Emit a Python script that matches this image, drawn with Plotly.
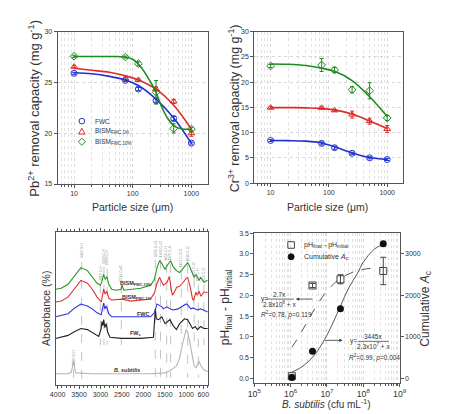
import plotly.graph_objects as go

W, H = 449, 414
FONT = "Liberation Sans, Arial, sans-serif"
BLUE, RED, GREEN = "#2233cc", "#e02a2a", "#1f8a1f"
AX = "#555555"
TXT = "#333333"

# ---------------- Panel (a) Pb removal ----------------
size_um = [10, 75, 125, 250, 500, 1000]
pb_fwc = [25.9, 25.2, 24.35, 23.2, 21.45, 19.03]
pb_fwc_err = [0.1, 0.1, 0.15, 0.2, 0.2, 0.1]
pb_b1 = [26.55, 25.38, 25.25, 24.35, 23.13, 20.0]
pb_b1_err = [0.1, 0.15, 0.1, 0.2, 0.2, 0.3]
pb_b10 = [27.58, 27.5, 26.84, 24.03, 20.48, 20.4]
pb_b10_err = [0.1, 0.1, 0.2, 1.16, 0.45, 0.2]

fit_x = [10, 20, 40, 75, 125, 250, 500, 1000]
pb_fwc_fit = [25.95, 25.85, 25.6, 25.25, 24.7, 23.35, 21.5, 19.0]
pb_b1_fit = [26.4, 26.2, 26.0, 25.65, 25.25, 24.35, 22.75, 20.4]
pb_b10_fit_x = [10, 40, 73.8, 101.9, 140.6, 182, 242, 305, 395, 512, 662, 1000]
pb_b10_fit = [27.55, 27.55, 27.51, 27.26, 26.45, 25.48, 24.19, 22.74, 21.45, 20.71, 20.45, 20.39]

# ---------------- Panel (b) Cr removal ----------------
cr_fwc = [8.44, 7.86, 7.0, 5.9, 5.0, 4.67]
cr_fwc_err = [0.2, 0.3, 0.3, 0.2, 0.2, 0.2]
cr_b1 = [14.94, 14.9, 14.4, 13.57, 12.27, 10.7]
cr_b1_err = [0.2, 0.2, 0.2, 0.7, 0.6, 0.7]
cr_b10 = [23.2, 23.4, 22.4, 18.5, 18.3, 12.9]
cr_b10_err = [0.3, 1.3, 0.5, 0.6, 1.6, 0.5]
cr_fwc_fit = [8.42, 8.4, 8.3, 7.95, 7.2, 5.95, 5.05, 4.65]
cr_b1_fit = [14.95, 14.95, 14.9, 14.8, 14.5, 13.7, 12.3, 10.8]
cr_b10_fit = [23.6, 23.55, 23.3, 22.75, 22.15, 20.3, 17.1, 13.2]

# ---------------- Panel (c) FTIR ----------------
wn_green = [4045, 3916, 3757, 3599, 3456, 3304, 3191, 3078, 3003, 2965, 2926, 2890, 2851, 2806, 2738, 2625,
            2519, 2496, 2455, 2286, 2059, 1832, 1742, 1680, 1621, 1567, 1492, 1447, 1363, 1304, 1227, 1152,
            1085, 1039, 965, 926, 851, 813, 774, 700, 661, 586, 496]
ab_green = [62.6, 63.2, 65.8, 71.6, 76.8, 74.8, 70.3, 66.5, 65.2, 67.7, 72.3, 69.0, 71.0, 65.8, 62.6, 61.9,
            62.6, 65.2, 61.9, 62.6, 63.2, 65.2, 69.0, 76.8, 81.3, 79.4, 75.5, 78.0, 81.3, 77.4, 74.8, 73.5,
            75.5, 77.4, 80.0, 78.0, 72.9, 70.3, 72.3, 68.4, 70.3, 67.1, 68.4]
wn_red = [4045, 3916, 3757, 3599, 3456, 3304, 3191, 3078, 2980, 2926, 2890, 2851, 2806, 2738, 2496, 2286,
          1832, 1742, 1680, 1621, 1531, 1447, 1391, 1357, 1323, 1289, 1221, 1152, 1085, 1001, 965, 904,
          851, 824, 774, 738, 700, 655, 586, 496]
ab_red = [54.2, 54.8, 57.4, 63.2, 68.4, 66.5, 62.6, 57.4, 54.2, 62.6, 59.4, 61.3, 56.8, 55.5, 56.1, 54.8,
          56.1, 60.0, 66.5, 70.3, 65.2, 67.1, 71.0, 63.9, 58.7, 60.0, 63.9, 64.5, 66.5, 69.7, 70.3, 63.9,
          56.1, 55.5, 60.6, 58.7, 61.3, 58.0, 60.6, 60.6]
wn_blue = [4045, 3916, 3757, 3599, 3456, 3304, 3191, 3078, 2983, 2926, 2897, 2863, 2806, 2738, 2286, 1832,
           1742, 1680, 1644, 1567, 1531, 1447, 1379, 1304, 1191, 1085, 1001, 965, 888, 836, 738, 661, 586, 496]
ab_blue = [44.5, 45.2, 46.5, 50.3, 52.9, 51.6, 49.7, 47.1, 45.8, 53.5, 49.7, 51.6, 46.5, 44.5, 44.5, 44.5,
           47.1, 52.9, 52.3, 51.0, 49.7, 51.0, 49.7, 49.0, 49.7, 51.6, 52.9, 52.3, 49.7, 50.3, 49.0, 49.7, 49.0, 47.7]
wn_black = [4045, 3916, 3757, 3599, 3456, 3304, 3191, 3040, 2983, 2965, 2942, 2926, 2897, 2867, 2829, 2777,
            2511, 2059, 1764, 1730, 1719, 1696, 1644, 1567, 1492, 1409, 1379, 1304, 1227, 1152, 1085, 1039,
            965, 904, 851, 790, 738, 661, 586, 496]
ab_black = [30.3, 31.0, 32.3, 34.8, 36.8, 36.1, 34.2, 31.6, 36.8, 41.3, 38.7, 42.6, 37.4, 40.0, 34.2, 31.0,
            30.3, 30.3, 31.0, 44.5, 49.7, 43.2, 42.6, 44.5, 40.0, 41.9, 42.6, 38.7, 36.1, 40.0, 41.9, 43.2,
            42.6, 39.4, 36.8, 38.1, 36.1, 38.1, 36.8, 36.8]
wn_gray = [4045, 3757, 3678, 3644, 3628, 3610, 3576, 3191, 1832, 1492, 1379, 1227, 1152, 1085, 1001, 971,
           926, 869, 813, 768, 722, 700, 655, 586, 496]
ab_gray = [7.1, 7.1, 8.4, 13.5, 15.5, 12.3, 7.7, 7.1, 7.1, 7.7, 9.0, 12.3, 17.4, 26.5, 36.1, 34.8,
           29.7, 20.6, 12.3, 11.0, 14.2, 15.5, 12.3, 9.7, 8.4]

peak_wn = [3628, 3440, 3003, 2919, 2844, 2512, 1720, 1599, 1455, 1363, 1114, 965, 813, 716, 586]
peak_lbl = ["3620 O-H", "3432 O-H", "3010 C-H", "2920 C-H", "2850 C-H", "2514 C≡O", "1735 C=O", "1640 C=O",
            "1456 C-H", "1375 C-H", "1157 C-O-C", "1030 C-O", "875 C-O", "712 C-H", "670 C-O"]
peak_top = [10.3, 80.6, 65.8, 77.4, 76.1, 65.8, 81.9, 81.9, 79.4, 79.4, 74.8, 78.7, 69.7, 65.8, 65.8]
peak_bot = [0.6, 0.6, 25.8, 25.8, 25.8, 25.8, 4.5, 4.5, 4.5, 4.5, 26.5, 4.5, 25.8, 4.5, 25.8]
peak_lbl_y = [11.0, 81.3, 66.5, 78.0, 76.8, 66.5, 82.6, 82.6, 80.0, 80.0, 75.5, 79.4, 70.3, 66.5, 66.5]

# ---------------- Panel (d) B. subtilis ----------------
cfu = [1.08e6, 4.0e6, 2.35e7, 3.55e8]
dph = [0.055, 2.24, 2.39, 2.59]
dph_err = [0.03, 0.05, 0.11, 0.33]
cum_ac = [25, 653, 1677, 3244]
fit_cfu = [1.08e6, 1.5e6, 2e6, 3e6, 4e6, 6e6, 1e7, 1.5e7, 2.4e7, 4e7, 7e7, 1e8, 2e8, 3.55e8]
dph_fit = [0.75, 0.94, 1.13, 1.39, 1.59, 1.84, 2.11, 2.27, 2.42, 2.52, 2.60, 2.63, 2.66, 2.68]
ac_fit = [155, 211, 276, 399, 510, 713, 1044, 1360, 1759, 2187, 2540, 2801, 3114, 3233]


def px(x):
    return x / W


def py(y):
    return 1 - y / H


fig = go.Figure()

# panel a
for ys, es, col, sym in [(pb_fwc, pb_fwc_err, BLUE, "circle-open"), (pb_b1, pb_b1_err, RED, "triangle-up-open"),
                         (pb_b10, pb_b10_err, GREEN, "diamond-open")]:
    fig.add_trace(go.Scatter(x=size_um, y=ys, mode="markers", xaxis="x", yaxis="y",
                             marker=dict(symbol=sym, size=6, color=col, line=dict(width=1, color=col)),
                             error_y=dict(type="data", array=es, color=col, thickness=1, width=2),
                             showlegend=False))
for xs, ys, col in [(fit_x, pb_fwc_fit, BLUE), (fit_x, pb_b1_fit, RED), (pb_b10_fit_x, pb_b10_fit, GREEN)]:
    fig.add_trace(go.Scatter(x=xs, y=ys, mode="lines", xaxis="x", yaxis="y",
                             line=dict(color=col, width=1.6, shape="spline", smoothing=1.0), showlegend=False))

# panel b
for ys, es, col, sym in [(cr_fwc, cr_fwc_err, BLUE, "circle-open"), (cr_b1, cr_b1_err, RED, "triangle-up-open"),
                         (cr_b10, cr_b10_err, GREEN, "diamond-open")]:
    fig.add_trace(go.Scatter(x=size_um, y=ys, mode="markers", xaxis="x2", yaxis="y2",
                             marker=dict(symbol=sym, size=6, color=col, line=dict(width=1, color=col)),
                             error_y=dict(type="data", array=es, color=col, thickness=1, width=2),
                             showlegend=False))
for ys, col in [(cr_fwc_fit, BLUE), (cr_b1_fit, RED), (cr_b10_fit, GREEN)]:
    fig.add_trace(go.Scatter(x=fit_x, y=ys, mode="lines", xaxis="x2", yaxis="y2",
                             line=dict(color=col, width=1.6, shape="spline", smoothing=1.0), showlegend=False))

# panel c
for i, w in enumerate(peak_wn):
    fig.add_trace(go.Scatter(x=[w, w], y=[peak_top[i], peak_bot[i]], mode="lines", xaxis="x3", yaxis="y3",
                             line=dict(color="#9a9a9a", width=0.6, dash="dash"), showlegend=False,
                             hoverinfo="skip"))
for xs, ys, col in [(wn_gray, ab_gray, "#b5b5b5"), (wn_black, ab_black, "#222222"), (wn_blue, ab_blue, "#3030dd"),
                    (wn_red, ab_red, "#e03030"), (wn_green, ab_green, "#1f9a1f")]:
    fig.add_trace(go.Scatter(x=xs, y=ys, mode="lines", xaxis="x3", yaxis="y3",
                             line=dict(color=col, width=1.1), showlegend=False))

# panel d
fig.add_trace(go.Scatter(x=fit_cfu, y=dph_fit, mode="lines", xaxis="x4", yaxis="y4",
                         line=dict(color="#444", width=0.9, dash="dash", shape="spline"), showlegend=False))
fig.add_trace(go.Scatter(x=cfu, y=dph, mode="markers", xaxis="x4", yaxis="y4",
                         marker=dict(symbol="square-open", size=7, color="#444", line=dict(width=1, color="#444")),
                         error_y=dict(type="data", array=dph_err, color="#444", thickness=1, width=3),
                         showlegend=False))
fig.add_trace(go.Scatter(x=fit_cfu, y=ac_fit, mode="lines", xaxis="x4", yaxis="y5",
                         line=dict(color="#444", width=0.9, shape="spline"), showlegend=False))
fig.add_trace(go.Scatter(x=cfu, y=cum_ac, mode="markers", xaxis="x4", yaxis="y5",
                         marker=dict(symbol="circle", size=7, color="#111"), showlegend=False))

common = dict(showline=True, linecolor=AX, linewidth=1, ticks="outside", ticklen=3, tickcolor=AX,
              tickfont=dict(size=7, color=TXT, family=FONT), zeroline=False)
grid = dict(showgrid=True, gridcolor="#d8d8d8", griddash="dot", gridwidth=1)
minor_log = dict(dtick="D1", ticks="outside", ticklen=2, tickcolor=AX, showgrid=True,
                 gridcolor="#e2e2e2", griddash="dot")

fig.update_layout(
    width=W, height=H, margin=dict(l=0, r=0, t=0, b=0),
    paper_bgcolor="white", plot_bgcolor="white", showlegend=False,
    font=dict(family=FONT, color=TXT),
    xaxis=dict(domain=[px(44), px(199)], anchor="y", type="log", range=[0.72, 3.28], dtick=1, mirror=True,
               minor=minor_log, **grid, **common),
    yaxis=dict(domain=[py(175), py(20)], anchor="x", range=[15, 30], dtick=5, mirror=True, **grid, **common),
    xaxis2=dict(domain=[px(247), px(401)], anchor="y2", type="log", range=[0.72, 3.28], dtick=1, mirror=True,
                minor=minor_log, **grid, **common),
    yaxis2=dict(domain=[py(174), py(20)], anchor="x2", range=[0, 30], dtick=5, mirror=True, **grid, **common),
    xaxis3=dict(domain=[px(42), px(199)], anchor="y3", range=[4045, 495],
                tickvals=[4000, 3500, 3000, 2500, 2000, 1500, 1000, 600], mirror="allticks", showgrid=False,
                minor=dict(dtick=100, ticks="outside", ticklen=2, tickcolor=AX), **common),
    yaxis3=dict(domain=[py(379), py(224)], anchor="x3", range=[0, 100], showticklabels=False,
                showline=True, linecolor=AX, mirror=True, ticks="", showgrid=False, zeroline=False),
    xaxis4=dict(domain=[px(247), px(397)], anchor="y4", type="log", range=[5, 9], dtick=1,
                exponentformat="power", mirror=True, minor=minor_log, **grid, **common),
    yaxis4=dict(domain=[py(377), py(225)], anchor="x4", range=[-0.1, 3.5], dtick=0.5, tickformat=".1f",
                showgrid=False, **common),
    yaxis5=dict(overlaying="y4", anchor="x4", side="right", range=[-100, 3500], tickvals=[0, 1000, 2000, 3000],
                showgrid=False, **common),
)

ann = []


def A(x, y, text, size=7, angle=0, xa="center", ya="middle", color=TXT, xref="paper", yref="paper", **kw):
    ann.append(dict(x=x, y=y, xref=xref, yref=yref, text=text, showarrow=False, textangle=angle,
                    xanchor=xa, yanchor=ya, font=dict(size=size, color=color, family=FONT), **kw))


# axis titles
A(px(20), py(98), "Pb<sup>2+</sup> removal capacity (mg g<sup>-1</sup>)", size=13, angle=-90)
A(px(121), py(198), "Particle size (μm)", size=10.5)
A(px(226), py(98), "Cr<sup>3+</sup> removal capacity (mg g<sup>-1</sup>)", size=12.5, angle=-90)
A(px(323), py(198), "Particle size (μm)", size=10.5)
A(px(32), py(302), "Absorbance (%)", size=10.5, angle=-90)
A(px(218), py(300), "pH<sub>final</sub> - pH<sub>initial</sub>", size=12, angle=-90)
A(px(424), py(302), "Cumulative <i>A</i><sub>c</sub>", size=12, angle=-90)
A(px(322), py(399), "<i>B. subtilis</i> (cfu mL<sup>-1</sup>)", size=10)

# panel a legend
shapes = []
leg = [("FWC", BLUE, "circle"), ("BISM<sub>FWC,1%</sub>", RED, "tri"), ("BISM<sub>FWC,10%</sub>", GREEN, "dia")]
for i, (t, c, s) in enumerate(leg):
    yy = 111 + i * 10.5
    A(px(80), py(yy), t, size=6.5, xa="left")
    base = dict(xref="paper", yref="paper", xsizemode="pixel", ysizemode="pixel", xanchor=px(69),
                yanchor=py(yy), line=dict(color=c, width=1), fillcolor="rgba(0,0,0,0)")
    if s == "circle":
        shapes.append(dict(type="circle", x0=-2.8, x1=2.8, y0=-2.8, y1=2.8, **base))
    elif s == "tri":
        shapes.append(dict(type="path", path="M -3.2 -2.6 L 3.2 -2.6 L 0 3.2 Z", **base))
    else:
        shapes.append(dict(type="path", path="M 0 -3.6 L 3.6 0 L 0 3.6 L -3.6 0 Z", **base))

# panel d legend
base = dict(xref="paper", yref="paper", xsizemode="pixel", ysizemode="pixel", xanchor=px(285))
shapes.append(dict(type="rect", x0=-3.3, x1=3.3, y0=-3.3, y1=3.3, yanchor=py(237),
                   line=dict(color="#444", width=1), fillcolor="rgba(0,0,0,0)", **base))
shapes.append(dict(type="circle", x0=-3, x1=3, y0=-3, y1=3, yanchor=py(249),
                   line=dict(color="#111", width=1), fillcolor="#111", **base))
A(px(296), py(237), "pH<sub>final</sub> - pH<sub>initial</sub>", size=7, xa="left")
A(px(296), py(249), "Cumulative <i>A</i><sub>c</sub>", size=7, xa="left")

# fit equations
A(px(252), py(292), "y=", size=6.5, xa="left")
A(px(273), py(287.5), "2.7x", size=6.5)
A(px(273), py(297), "2.8x10<sup>6</sup> + x", size=6.5)
shapes.append(dict(type="line", xref="paper", yref="paper", x0=px(259), x1=px(288), y0=py(292), y1=py(292),
                   line=dict(color=TXT, width=0.7)))
A(px(252), py(308), "<i>R</i><sup>2</sup>=0.78, <i>p</i>=0.119", size=6.5, xa="left")
ann.append(dict(x=px(290), y=py(292), xref="paper", yref="paper", ax=18, ay=0, showarrow=True, text="",
                arrowhead=2, arrowsize=0.8, arrowwidth=0.8, arrowcolor="#333"))

A(px(344), py(335), "y=", size=6.5, xa="left")
A(px(370), py(330.5), "3445x", size=6.5)
A(px(370), py(340), "2.3x10<sup>7</sup> + x", size=6.5)
shapes.append(dict(type="line", xref="paper", yref="paper", x0=px(354), x1=px(386), y0=py(335), y1=py(335),
                   line=dict(color=TXT, width=0.7)))
A(px(343), py(351), "<i>R</i><sup>2</sup>=0.99, <i>p</i>=0.004", size=6.5, xa="left")
ann.append(dict(x=px(338), y=py(334), xref="paper", yref="paper", ax=-19, ay=0, showarrow=True, text="",
                arrowhead=2, arrowsize=0.8, arrowwidth=0.8, arrowcolor="#333"))

# FTIR labels
for i, w in enumerate(peak_wn):
    A(w, peak_lbl_y[i], peak_lbl[i], size=3.5, angle=-90, xa="center", ya="bottom", color="#8a8a8a",
      xref="x3", yref="y3")
A(px(125), py(276), "<b>BISM<sub>FWC,10%</sub></b>", size=5.5)
A(px(126), py(290), "<b>BISM<sub>FWC,1%</sub></b>", size=5.5)
A(px(133), py(307), "<b>FWC</b>", size=5.5)
A(px(125), py(327), "<b>FW<sub>c</sub></b>", size=5.5)
A(px(116), py(364), "<b><i>B. subtilis</i></b>", size=5.5)

fig.update_layout(annotations=ann, shapes=shapes)
fig.write_html("out.html")
